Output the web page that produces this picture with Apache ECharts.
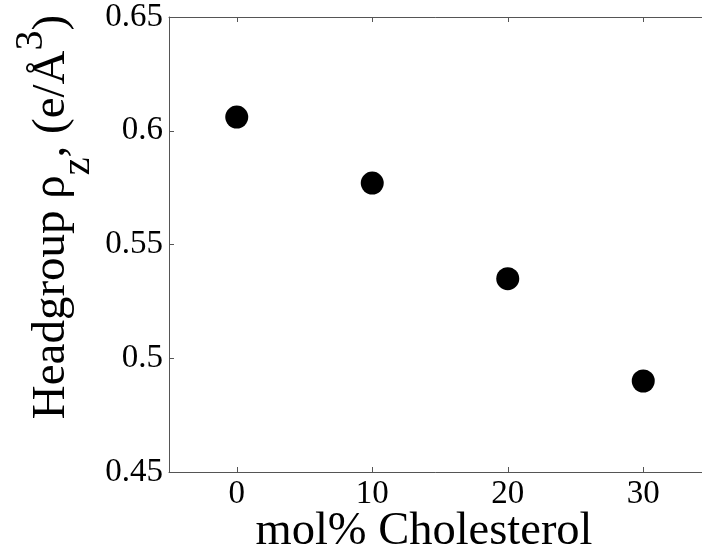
<!DOCTYPE html>
<html>
<head>
<meta charset="utf-8">
<script src="https://cdn.jsdelivr.net/npm/echarts@6/dist/echarts.min.js"></script>
<style>
html,body{margin:0;padding:0;background:#fff;}
#chart{width:702px;height:554px;}
</style>
</head>
<body>
<div id="chart"></div>
<script>
// Data
const cholesterolMolPct = [0, 10, 20, 30];
const headgroupRho = [0.606, 0.577, 0.535, 0.490];
const xTickValues = [0, 10, 20, 30];
const yTickValues = [0.45, 0.5, 0.55, 0.6, 0.65];
const xAxisTitle = 'mol% Cholesterol';

const points = cholesterolMolPct.map((x, i) => [x, headgroupRho[i]]);

const serif = '"Liberation Serif", "Times New Roman", serif';
const axisColor = '#555';

const chart = echarts.init(document.getElementById('chart'), null, {renderer: 'canvas'});
chart.setOption({
  animation: false,
  backgroundColor: '#fff',
  grid: {left: 169, top: 17, width: 542, height: 455, containLabel: false, outerBoundsMode: 'none'},
  xAxis: [{
    type: 'value', min: -5, max: 35, position: 'bottom',
    axisLine: {show: true, onZero: false, lineStyle: {color: axisColor, width: 1}},
    axisTick: {show: true, inside: true, length: 5, customValues: xTickValues, lineStyle: {color: axisColor}},
    axisLabel: {show: true, customValues: xTickValues, margin: 6, fontFamily: serif, fontSize: 33, color: '#000'},
    splitLine: {show: false}
  }, {
    type: 'value', min: -5, max: 35, position: 'top',
    axisLine: {show: true, onZero: false, lineStyle: {color: axisColor, width: 1}},
    axisTick: {show: true, inside: true, length: 5, customValues: xTickValues, lineStyle: {color: axisColor}},
    axisLabel: {show: false},
    splitLine: {show: false}
  }],
  yAxis: [{
    type: 'value', min: 0.45, max: 0.65, position: 'left',
    axisLine: {show: true, onZero: false, lineStyle: {color: axisColor, width: 1}},
    axisTick: {show: true, inside: true, length: 5, customValues: yTickValues, lineStyle: {color: axisColor}},
    axisLabel: {show: true, customValues: yTickValues, margin: 6, fontFamily: serif, fontSize: 33, color: '#000'},
    splitLine: {show: false}
  }, {
    type: 'value', min: 0.45, max: 0.65, position: 'right',
    axisLine: {show: true, onZero: false, lineStyle: {color: axisColor, width: 1}},
    axisTick: {show: true, inside: true, length: 5, customValues: yTickValues, lineStyle: {color: axisColor}},
    axisLabel: {show: false},
    splitLine: {show: false}
  }],
  series: [{
    type: 'scatter',
    xAxisIndex: 0, yAxisIndex: 0,
    data: points,
    symbol: 'circle',
    symbolSize: 23,
    itemStyle: {color: '#000', opacity: 1}
  }],
  graphic: [{
    type: 'text',
    x: 424, y: 532,
    style: {
      text: xAxisTitle,
      font: '46.5px ' + serif,
      fill: '#000',
      textAlign: 'center',
      textVerticalAlign: 'middle'
    }
  }, {
    type: 'text',
    x: 53.5, y: 217,
    rotation: Math.PI / 2,
    style: {
      text: '{m|Headgroup ρ}{sub|z}{m|, (e/Å}{sup|3}{m|)}',
      textAlign: 'center',
      textVerticalAlign: 'middle',
      fill: '#000',
      rich: {
        m: {fontFamily: serif, fontSize: 47, lineHeight: 90, verticalAlign: 'bottom', padding: [0, 0, 23, 0], fill: '#000'},
        sub: {fontFamily: serif, fontSize: 40, lineHeight: 40, verticalAlign: 'bottom', padding: [0, 0, 0, 0], fill: '#000'},
        sup: {fontFamily: serif, fontSize: 40, lineHeight: 40, verticalAlign: 'top', padding: [3, 0, 0, 0], fill: '#000'}
      }
    }
  }]
});
</script>
</body>
</html>
